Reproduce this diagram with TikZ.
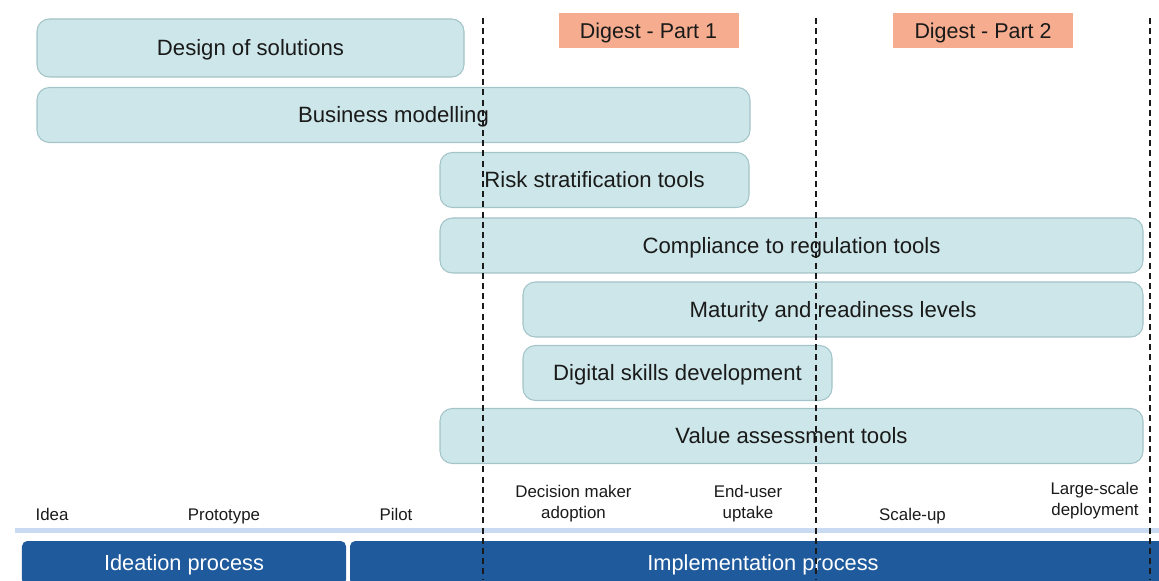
\documentclass[tikz,border=0pt]{standalone}
\usepackage{fontspec}
\setmainfont{Liberation Sans}
\usepackage{tikz}
\definecolor{Ink}{HTML}{1A1A1A}
\definecolor{Aqua}{HTML}{CDE6E9}
\definecolor{AquaLine}{HTML}{A3C4C8}
\definecolor{Salmon}{HTML}{F6AD8F}
\definecolor{Navy}{HTML}{1F5A9C}
\definecolor{RuleBlue}{HTML}{C8DBF2}
\tikzset{
  capbox/.style={text height=1.7ex,text depth=0pt},
  phase/.style={capbox,draw=AquaLine,fill=Aqua,line width=.6pt,rounded corners=7pt,minimum height=11mm,text=Ink,font=\fontsize{12.6}{15}\selectfont},
  digest/.style={capbox,fill=Salmon,minimum width=3.6cm,minimum height=7mm,text=Ink,font=\fontsize{12.2}{14}\selectfont},
  stage/.style={align=center,text=Ink,inner sep=0pt,font=\fontsize{9.6}{11.8}\selectfont},
  procbar/.style={capbox,fill=Navy,rounded corners=3pt,minimum height=8.8mm,text=white,font=\fontsize{12.4}{14}\selectfont},
  cut/.style={draw=Ink,line width=.9pt,dash pattern=on 3.4pt off 2.4pt}
}
\begin{document}
\begin{tikzpicture}[x=1cm,y=1cm]
  \useasboundingbox (0,0) rectangle (23.18,11.6);
  % tool bars
  \node[phase,minimum width=8.54cm,minimum height=11.6mm] (design) at (5.01,10.64) {Design of solutions};
  \node[phase,minimum width=14.26cm] (business) at (7.87,9.30) {Business modelling};
  \node[phase,minimum width=6.18cm] (risk) at (11.89,8.00) {Risk stratification tools};
  \node[phase,minimum width=14.06cm] (compliance) at (15.83,6.69) {Compliance to regulation tools};
  \node[phase,minimum width=12.40cm] (maturity) at (16.66,5.41) {Maturity and readiness levels};
  \node[phase,minimum width=6.18cm] (skills) at (13.55,4.14) {Digital skills development};
  \node[phase,minimum width=14.06cm] (value) at (15.83,2.88) {Value assessment tools};

  % digest parts
  \node[digest] (part1) at (12.97,10.99) {Digest - Part 1};
  \node[digest] (part2) at (19.66,10.99) {Digest - Part 2};

  % stages
  \foreach \nm/\x/\lab in {idea/1.04/Idea,proto/4.48/Prototype,pilot/7.92/Pilot,scale/18.25/Scale-up}{
    \node[stage,anchor=base] (\nm) at (\x,1.20) {\lab};
  }
  \node[stage] (decision) at (11.47,1.53) {Decision maker\\adoption};
  \node[stage] (uptake) at (14.96,1.53) {End-user\\uptake};
  \node[stage,anchor=east,align=right] (deploy) at (22.78,1.59) {Large-scale\\deployment};
  \fill[RuleBlue] (0.30,0.94) rectangle (23.18,1.04);

  % process bars
  \node[procbar,minimum width=6.48cm] (ideation) at (3.68,0.34) {Ideation process};
  \node[procbar,minimum width=16.52cm] (implement) at (15.26,0.34) {Implementation process};

  % phase cuts
  \foreach \x in {9.66,16.32,23.00}{
    \draw[cut] (\x,11.24) -- (\x,0);
  }
\end{tikzpicture}
\end{document}
